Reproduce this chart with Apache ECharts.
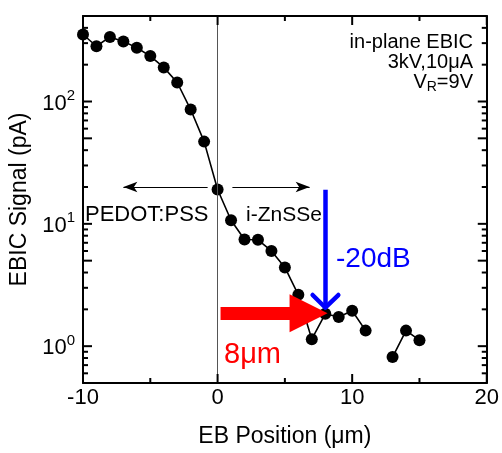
<!DOCTYPE html>
<html>
<head>
<meta charset="utf-8">
<title>in-plane EBIC</title>
<script src="https://cdn.jsdelivr.net/npm/echarts@6/dist/echarts.min.js"></script>
</head>
<body style="margin:0">
<div id="main" style="width:502px;height:453px;"></div>
<script type="text/javascript">
// EB position (um) and EBIC signal (pA) (null = no point)
var positions = [-10, -9, -8, -7, -6, -5, -4, -3, -2, -1, 0, 1, 2, 3, 4, 5, 6, 7, 8, 9, 10, 11, 12, 13, 14, 15];
var signals = [353, 283, 337, 310, 275, 235, 190, 143, 86, 47, 19.1, 10.7, 7.45, 7.41, 6.0, 4.4, 2.63, 1.14, 1.84, 1.73, 1.95, 1.34, null, 0.815, 1.34, 1.12];

// axis ticks
var xMin = -10, xMax = 20;
var xMajorTicks = [-10, 0, 10, 20];
var xMinorTicks = [-5, 5, 15];
var yMin = 0.5, yMax = 500;
var yLabelTicks = [1, 10, 100];
var yMajorTicks = [1, 5, 10, 50, 100];
var yMinorTicks = [0.6, 0.7, 0.8, 0.9, 2, 3, 4, 6, 7, 8, 9, 20, 30, 40, 60, 70, 80, 90, 200, 300, 400];

// annotation anchors (um, pA)
var arrowLevel = 20;
var leftArrow = [-0.74, -7.0];
var rightArrow = [1.1, 6.84];
var blueX = 8.0, blueFrom = 19, blueTo = 2.07, blueArmX = [7.06, 8.97], blueArmY = 2.62;
var redFrom = 0.22, redTo = 6.76, redLevel = 1.86;

var FONT = '"Liberation Sans", Arial, sans-serif';
function lg(v) { return Math.log10(v); }

var myChart = echarts.init(document.getElementById('main'));

function yAxisDef(pos, withLabel) {
    return {
        type: 'value',
        position: pos,
        min: lg(yMin),
        max: lg(yMax),
        name: withLabel ? 'EBIC Signal (pA)' : '',
        nameLocation: 'middle',
        nameGap: 52,
        nameTextStyle: {fontSize: 23, color: '#000', fontFamily: FONT},
        axisLine: {show: true, onZero: false, lineStyle: {color: '#000', width: 2}},
        axisTick: {show: false},
        axisLabel: {
            show: withLabel,
            customValues: yLabelTicks.map(lg),
            margin: 8,
            formatter: function (v) { return '{b|10}{s|' + Math.round(v) + '}'; },
            rich: {
                b: {fontSize: 22, color: '#000', fontFamily: FONT, lineHeight: 26, verticalAlign: 'bottom'},
                s: {fontSize: 15, color: '#000', fontFamily: FONT, lineHeight: 26, verticalAlign: 'top'}
            }
        },
        splitLine: {show: false}
    };
}

function xAxisDef(pos, withLabel) {
    return {
        type: 'value',
        position: pos,
        min: xMin,
        max: xMax,
        interval: 10,
        name: withLabel ? 'EB Position (\u03bcm)' : '',
        nameLocation: 'middle',
        nameGap: 42,
        nameTextStyle: {fontSize: 23, color: '#000', fontFamily: FONT},
        axisLine: {show: true, onZero: false, lineStyle: {color: '#000', width: 2}},
        axisTick: {show: false},
        axisLabel: {show: withLabel, fontSize: 22, color: '#000', fontFamily: FONT, margin: 4},
        splitLine: {show: false}
    };
}

var lineData = positions.map(function (x, i) {
    return signals[i] == null ? [x, '-'] : [x, lg(signals[i])];
});

// tick marks on all four sides, placed through the axes' scales
var yTickData = yMajorTicks.map(function (v) { return [xMin, lg(v), 9]; })
    .concat(yMinorTicks.map(function (v) { return [xMin, lg(v), 5]; }));
var xTickData = xMajorTicks.map(function (v) { return [v, lg(yMin), 9]; })
    .concat(xMinorTicks.map(function (v) { return [v, lg(yMin), 5]; }));

function tickLine(x1, y1, x2, y2) {
    return {type: 'line', shape: {x1: x1, y1: y1, x2: x2, y2: y2}, style: {stroke: '#000', lineWidth: 2}};
}

function renderYTick(params, api) {
    var cs = params.coordSys;
    var p = api.coord([api.value(0), api.value(1)]);
    var len = api.value(2);
    return {type: 'group', children: [
        tickLine(cs.x, p[1], cs.x + len, p[1]),
        tickLine(cs.x + cs.width, p[1], cs.x + cs.width - len, p[1])
    ]};
}

function renderXTick(params, api) {
    var cs = params.coordSys;
    var p = api.coord([api.value(0), api.value(1)]);
    var len = api.value(2);
    return {type: 'group', children: [
        tickLine(p[0], cs.y + cs.height, p[0], cs.y + cs.height - len),
        tickLine(p[0], cs.y, p[0], cs.y + len)
    ]};
}

var option = {
    animation: false,
    grid: {left: 81, right: 13, top: 16, bottom: 55},
    xAxis: [xAxisDef('bottom', true), xAxisDef('top', false)],
    yAxis: [yAxisDef('left', true), yAxisDef('right', false)],
    series: [
        {
            name: 'EBIC',
            type: 'line',
            data: lineData,
            connectNulls: false,
            symbol: 'circle',
            symbolSize: 12,
            itemStyle: {color: '#000'},
            lineStyle: {color: '#000', width: 1.6},
            z: 3
        },
        {type: 'custom', name: 'yTicks', data: yTickData, renderItem: renderYTick, silent: true, clip: false, z: 5},
        {type: 'custom', name: 'xTicks', data: xTickData, renderItem: renderXTick, silent: true, clip: false, z: 5},
        {
            name: 'annotations',
            type: 'line',
            data: [],
            z: 4,
            markLine: {
                silent: true,
                symbol: ['none', 'none'],
                label: {show: false},
                data: [
                    // x = 0 guide line
                    [{coord: [0, lg(yMin)], lineStyle: {color: '#555', width: 1, type: 'solid'}},
                     {coord: [0, lg(yMax)]}],
                    // PEDOT:PSS / i-ZnSSe arrows
                    [{coord: [leftArrow[0], lg(arrowLevel)], lineStyle: {color: '#000', width: 1.2, type: 'solid'}},
                     {coord: [leftArrow[1], lg(arrowLevel)], symbol: 'arrow', symbolSize: [8, 14]}],
                    [{coord: [rightArrow[0], lg(arrowLevel)], lineStyle: {color: '#000', width: 1.2, type: 'solid'}},
                     {coord: [rightArrow[1], lg(arrowLevel)], symbol: 'arrow', symbolSize: [8, 14]}],
                    // blue -20dB arrow
                    [{coord: [blueX, lg(blueFrom)], lineStyle: {color: '#0000ff', width: 4.5, type: 'solid'}},
                     {coord: [blueX, lg(blueTo)]}],
                    [{coord: [blueArmX[0], lg(blueArmY)], lineStyle: {color: '#0000ff', width: 4.5, type: 'solid', cap: 'round'}},
                     {coord: [blueX, lg(blueTo)]}],
                    [{coord: [blueArmX[1], lg(blueArmY)], lineStyle: {color: '#0000ff', width: 4.5, type: 'solid', cap: 'round'}},
                     {coord: [blueX, lg(blueTo)]}],
                    // red 8um arrow
                    [{coord: [redFrom, lg(redLevel)], lineStyle: {color: '#ff0000', width: 13, type: 'solid'}},
                     {coord: [redTo, lg(redLevel)], symbol: 'triangle', symbolSize: [38, 38]}]
                ]
            }
        }
    ],
    graphic: [
        {type: 'text', x: 85, y: 215, style: {text: 'PEDOT:PSS', font: '22px ' + FONT, fill: '#000', align: 'left', verticalAlign: 'middle'}},
        {type: 'text', x: 246, y: 215, style: {text: 'i-ZnSSe', font: '21px ' + FONT, fill: '#000', align: 'left', verticalAlign: 'middle'}},
        {type: 'text', x: 336, y: 259, style: {text: '-20dB', font: '28px ' + FONT, fill: '#0000ff', align: 'left', verticalAlign: 'middle'}},
        {type: 'text', x: 224, y: 355, style: {text: '8\u03bcm', font: '29px ' + FONT, fill: '#ff0000', align: 'left', verticalAlign: 'middle'}},
        {type: 'text', x: 473, y: 42, style: {text: 'in-plane EBIC', font: '20px ' + FONT, fill: '#000', align: 'right', verticalAlign: 'middle'}},
        {type: 'text', x: 473, y: 62, style: {text: '3kV,10\u03bcA', font: '20px ' + FONT, fill: '#000', align: 'right', verticalAlign: 'middle'}},
        {type: 'text', x: 473, y: 83, style: {
            text: '{n|V}{sub|R}{n|=9V}', align: 'right', verticalAlign: 'middle',
            rich: {
                n: {fontSize: 20, fontFamily: FONT, fill: '#000', lineHeight: 22, verticalAlign: 'top'},
                sub: {fontSize: 14, fontFamily: FONT, fill: '#000', lineHeight: 22, verticalAlign: 'bottom'}
            }
        }}
    ]
};

myChart.setOption(option);
</script>
</body>
</html>
